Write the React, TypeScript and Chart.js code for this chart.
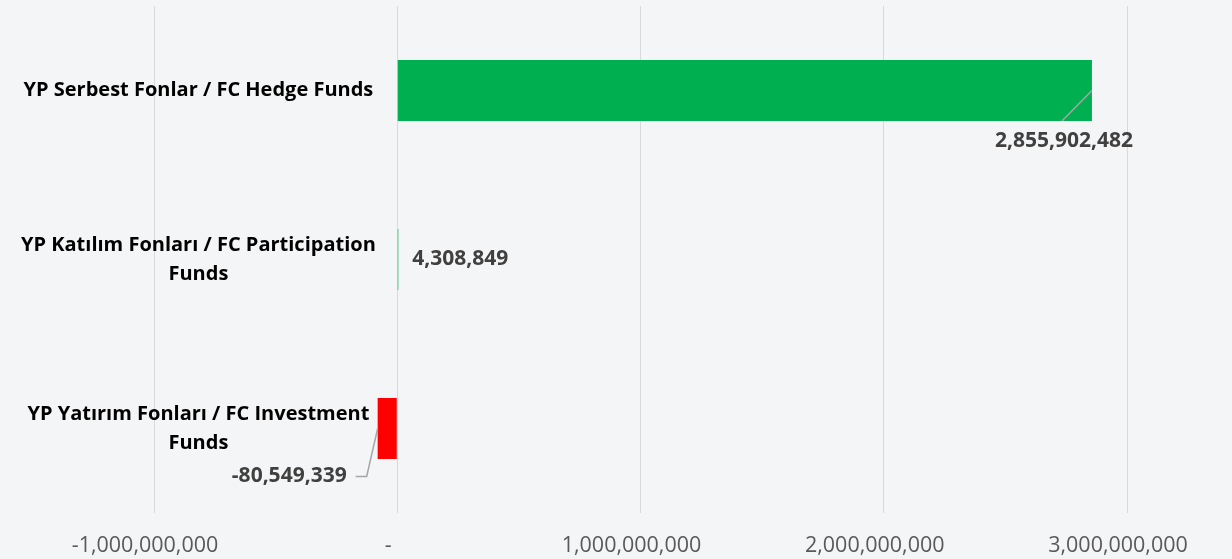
import React, { useEffect, useRef } from 'react';
import { Chart, registerables } from 'chart.js';

Chart.register(...registerables);

// ---- data ----
const categories: string[][] = [
  ['YP Serbest Fonlar / FC Hedge Funds'],
  ['YP Katılım Fonları / FC Participation', 'Funds'],
  ['YP Yatırım Fonları / FC Investment', 'Funds'],
];
const values: number[] = [2855902482, 4308849, -80549339];
const barColors: string[] = ['#00B050', '#00B050', '#FF0000'];
const xMin = -1000000000;
const xMax = 3000000000;
const xStep = 1000000000;
const zeroTickLabel = '-';

const FONT = '"Open Sans", "Noto Sans", sans-serif';

const fmt = (v: number) => v.toLocaleString('en-US');

const backgroundPlugin = {
  id: 'bgFill',
  beforeDraw(chart: any) {
    const { ctx, width, height } = chart;
    ctx.save();
    ctx.fillStyle = '#f4f5f7';
    ctx.fillRect(0, 0, width, height);
    ctx.restore();
  },
};

const valueLabelPlugin = {
  id: 'valueLabels',
  afterDatasetsDraw(chart: any) {
    const meta = chart.getDatasetMeta(0);
    const ctx: CanvasRenderingContext2D = chart.ctx;
    ctx.save();
    ctx.font = `bold 21px ${FONT}`;
    ctx.fillStyle = '#404040';
    ctx.textBaseline = 'middle';
    ctx.strokeStyle = '#a6a6a6';
    ctx.lineWidth = 1.5;
    meta.data.forEach((el: any, i: number) => {
      const { x, y, height } = el.getProps(['x', 'y', 'height'], true);
      const text = fmt(values[i]);
      if (i === 0) {
        ctx.beginPath();
        ctx.moveTo(x, y);
        ctx.lineTo(x - 30, y + height / 2);
        ctx.stroke();
        ctx.textAlign = 'center';
        ctx.fillText(text, x - 28, y + 51);
      } else if (i === 1) {
        ctx.textAlign = 'left';
        ctx.fillText(text, x + 14, y);
      } else {
        ctx.beginPath();
        ctx.moveTo(x - 22, y + 48);
        ctx.lineTo(x - 11, y + 48);
        ctx.lineTo(x, y);
        ctx.stroke();
        ctx.textAlign = 'right';
        ctx.fillText(text, x - 31, y + 48);
      }
    });
    ctx.restore();
  },
};

export default function App() {
  const ref = useRef<HTMLCanvasElement>(null);

  useEffect(() => {
    document.body.style.margin = '0';
    const chart = new Chart(ref.current as HTMLCanvasElement, {
      type: 'bar',
      data: {
        labels: categories as any,
        datasets: [
          {
            data: values,
            backgroundColor: barColors,
            borderWidth: 0,
            categoryPercentage: 0.36,
            barPercentage: 1,
          },
        ],
      },
      plugins: [backgroundPlugin, valueLabelPlugin],
      options: {
        indexAxis: 'y',
        animation: false,
        responsive: true,
        maintainAspectRatio: false,
        layout: { padding: { left: 154, right: 105, top: 6, bottom: 2 } },
        plugins: {
          legend: { display: false },
          tooltip: { enabled: false },
        },
        scales: {
          x: {
            type: 'linear',
            min: xMin,
            max: xMax,
            grid: { color: '#d9d9d9', lineWidth: 1, drawTicks: false },
            border: { display: false },
            afterFit: (s: any) => {
              s.height = 44;
            },
            ticks: {
              stepSize: xStep,
              padding: 20,
              labelOffset: -9,
              maxRotation: 0,
              autoSkip: false,
              color: '#595959',
              font: { family: FONT, size: 21.5 },
              callback: (v: any) => (Number(v) === 0 ? zeroTickLabel : fmt(Number(v))),
            },
          },
          y: {
            type: 'category',
            position: 'left',
            grid: { display: false },
            border: { display: false },
            afterFit: (s: any) => {
              s.width = 0;
            },
            ticks: {
              mirror: true,
              crossAlign: 'center',
              padding: -133,
              color: '#000000',
              font: { family: FONT, size: 20, weight: 'bold', lineHeight: 1.45 },
            },
          },
        },
      } as any,
    });
    return () => chart.destroy();
  }, []);

  return (
    <div style={{ position: 'relative', width: 1232, height: 559 }}>
      <canvas ref={ref} />
    </div>
  );
}
